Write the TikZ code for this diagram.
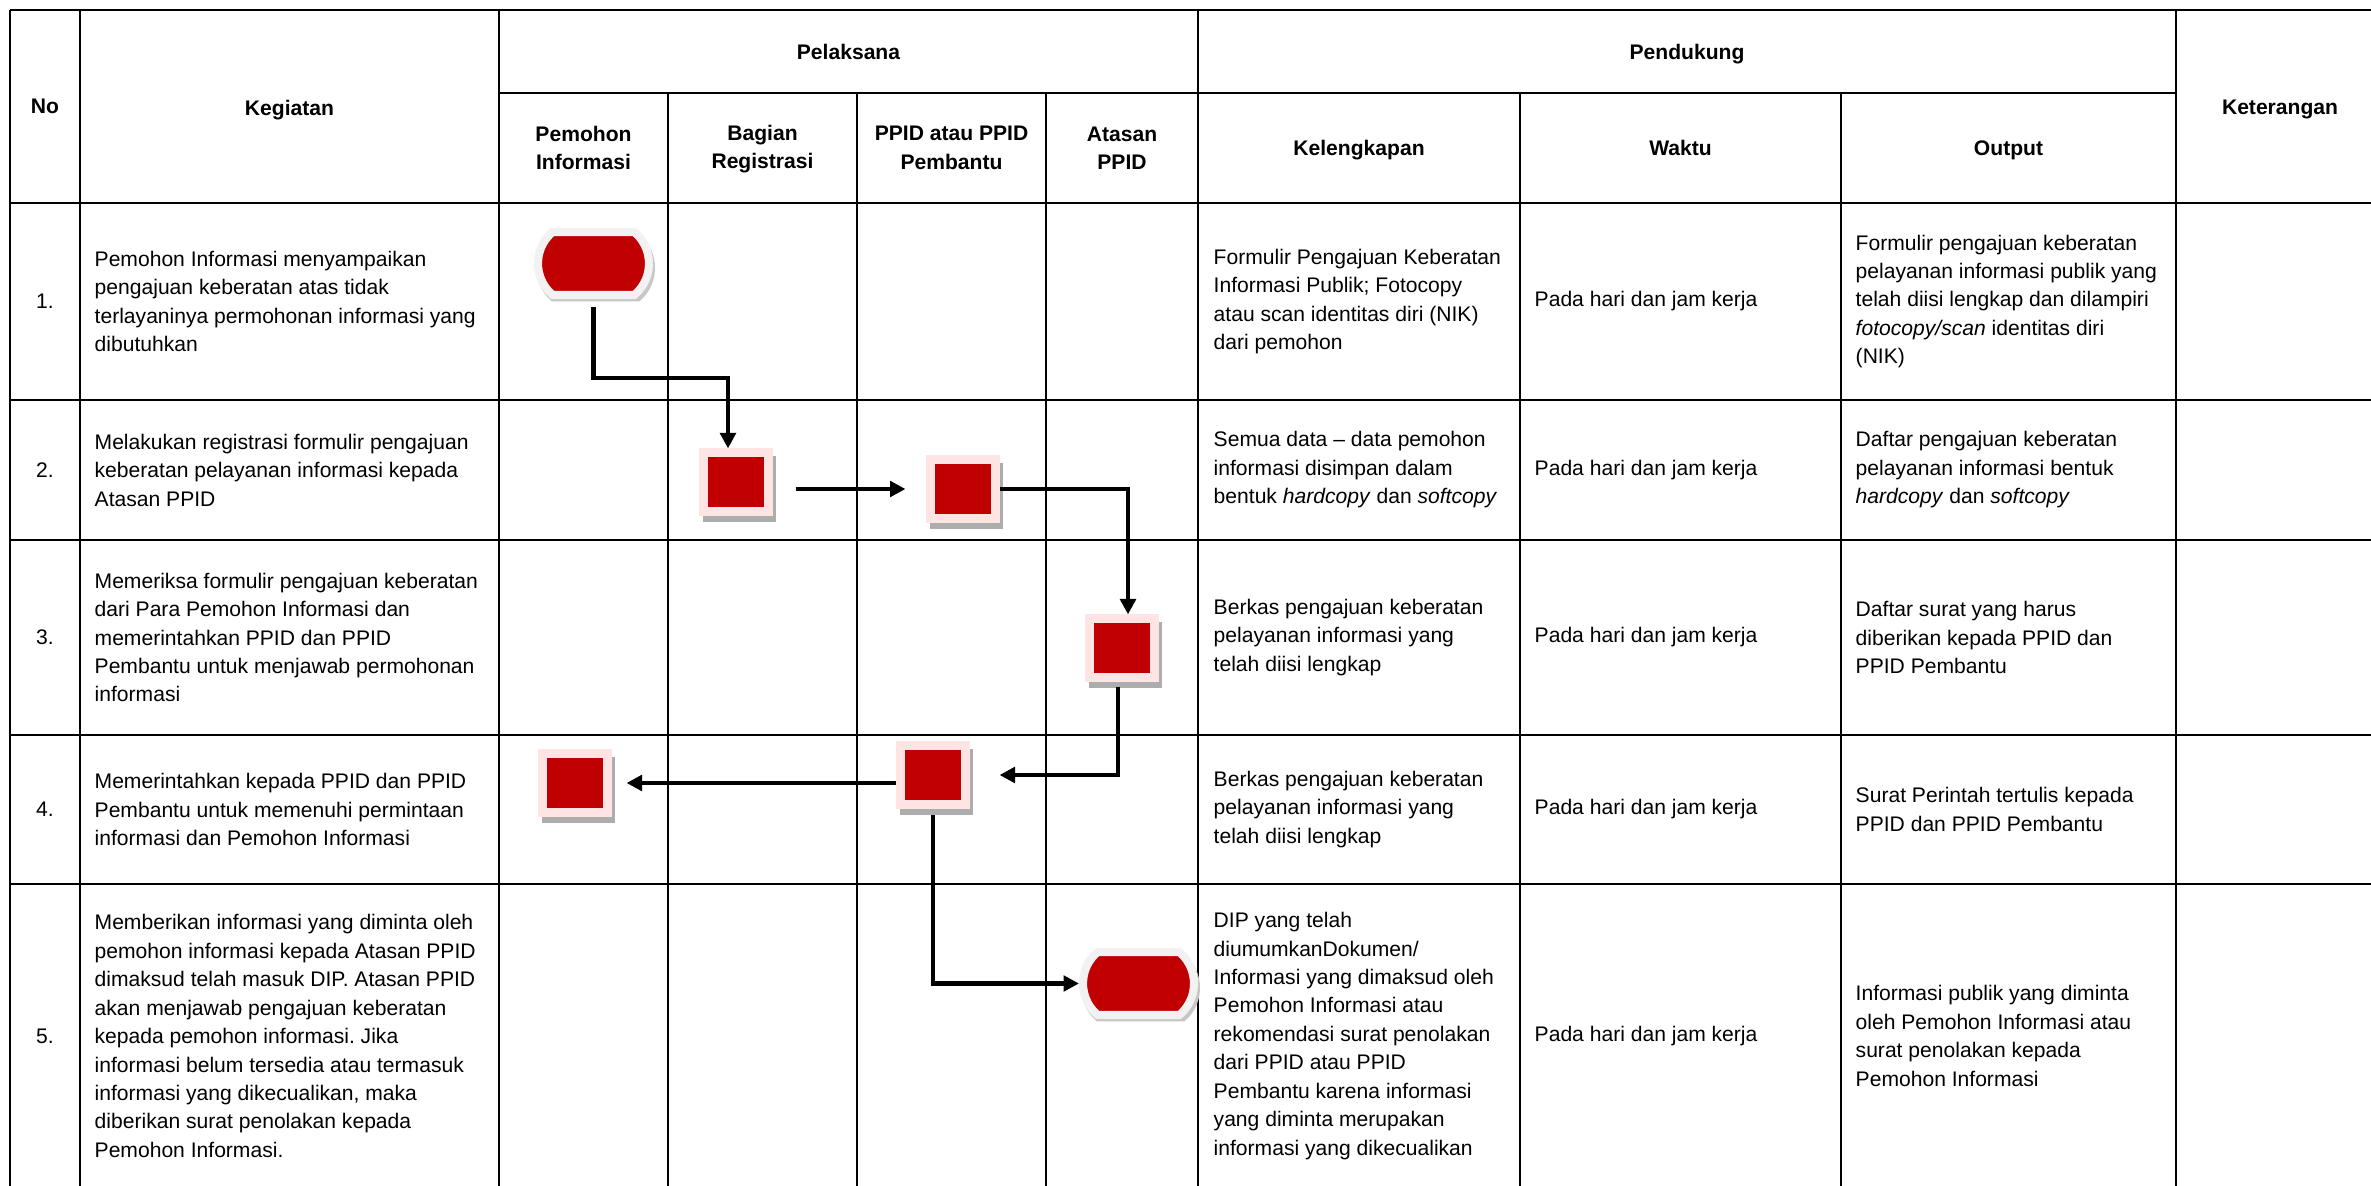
\documentclass[tikz,border=0pt]{standalone}
\usepackage{fontspec}
\setmainfont{Liberation Sans}
\usetikzlibrary{arrows.meta,shapes.misc,shadows}
\frenchspacing

\definecolor{procred}{HTML}{C00000}
\definecolor{procpink}{HTML}{FFE4E4}
\definecolor{termgray}{HTML}{F2F2F2}
\definecolor{shadegray}{HTML}{ADADAD}

\newcommand\tabfont{\fontsize{6}{8.1}\selectfont}

\tikzset{
    tabline/.style={line width=0.6pt},
    proc/.style={rectangle, fill=procred, draw=procpink, line width=2.3pt,
        minimum width=6.5mm, minimum height=5.9mm, inner sep=0pt,
        drop shadow={shadow scale=1.12, shadow xshift=0.3mm, shadow yshift=-0.6mm,
            fill=shadegray, draw=none, opacity=1}},
    term/.style={rounded rectangle, rounded rectangle arc length=100,
        fill=procred, draw=termgray, line width=2.3pt,
        minimum width=11.1mm, minimum height=6.3mm, inner sep=0pt,
        drop shadow={shadow scale=1.07, shadow xshift=0.2mm, shadow yshift=-0.4mm,
            fill=black!22, draw=none, opacity=1}},
    flow/.style={line width=1.3pt, -{Triangle[length=4.4pt,width=4.4pt]}},
    cell/.style={anchor=west, align=left, inner sep=0pt, font=\tabfont},
    head/.style={align=center, inner sep=0pt, font=\tabfont\bfseries}
}

\begin{document}
\begin{tikzpicture}[x=0.1mm, y=-0.1mm, font=\tabfont]
        \path[use as bounding box, fill=white] (0, 0) rectangle (2371, 1186);

        % \foreach \x in {0, 100, ..., 2300}
        %     \draw[red, very thin] (\x, 0) -- (\x, 1186);

        % table
        \draw[tabline] (10, 10) -- (2371, 10)
            (499, 93) -- (2176, 93);
        \foreach \y in {203, 400, 540, 735, 884}
            \draw[tabline] (10, \y) -- (2371, \y);
        \foreach \x in {10, 80, 499, 1198, 2176}
            \draw[tabline] (\x, 10) -- (\x, 1186);
        \foreach \x in {668, 857, 1046, 1520, 1841}
            \draw[tabline] (\x, 93) -- (\x, 1186);

        \draw node[head] (hno) at (45, 106.5) {No}
            node[head] (hkeg) at (289.5, 110) {Kegiatan}
            node[head] (hpel) at (848.5, 52) {Pelaksana}
            node[head] (hpem) at (583.5, 148) {Pemohon\\Informasi}
            node[head] (hbag) at (762.5, 149) {Bagian\\Registrasi}
            node[head] (hppid) at (951.5, 148) {PPID atau PPID\\Pembantu}
            node[head] (hata) at (1122, 148) {Atasan\\PPID}
            node[head] (hpen) at (1687, 54) {Pendukung}
            node[head] (hkel) at (1359, 150) {Kelengkapan}
            node[head] (hwak) at (1680.5, 148) {Waktu}
            node[head] (hout) at (2008.5, 150) {Output}
            node[head] (hket) at (2280, 109.5) {Keterangan};

        \foreach \n/\y in {1/301.5, 2/470, 3/637.5, 4/809.5, 5/1036} {
            \node (no\n) at (45, \y) {\n.};
            \node[cell] (waktu\n) at (1534, \y) {Pada hari dan jam kerja};
        }

        % kegiatan
        \node[cell] (keg1) at (94, 301.5) {Pemohon Informasi menyampaikan\\pengajuan keberatan atas tidak\\terlayaninya permohonan informasi yang\\dibutuhkan};
        \node[cell] (keg2) at (94, 470) {Melakukan registrasi formulir pengajuan\\keberatan pelayanan informasi kepada\\Atasan PPID};
        \node[cell] (keg3) at (94, 637.5) {Memeriksa formulir pengajuan keberatan\\dari Para Pemohon Informasi dan\\memerintahkan PPID dan PPID\\Pembantu untuk menjawab permohonan\\informasi};
        \node[cell] (keg4) at (94, 809.5) {Memerintahkan kepada PPID dan PPID\\Pembantu untuk memenuhi permintaan\\informasi dan Pemohon Informasi};
        \node[cell] (keg5) at (94, 1036) {Memberikan informasi yang diminta oleh\\pemohon informasi kepada Atasan PPID\\dimaksud telah masuk DIP. Atasan PPID\\akan menjawab pengajuan keberatan\\kepada pemohon informasi. Jika\\informasi belum tersedia atau termasuk\\informasi yang dikecualikan, maka\\diberikan surat penolakan kepada\\Pemohon Informasi.};

        % kelengkapan
        \node[cell] (kel1) at (1213, 301.5) {Formulir Pengajuan Keberatan\\Informasi Publik; Fotocopy\\atau scan identitas diri (NIK)\\dari pemohon};
        \node[cell] (kel2) at (1213, 470) {Semua data -- data pemohon\\informasi disimpan dalam\\bentuk \textit{hardcopy} dan \textit{softcopy}};
        \node[cell] (kel3) at (1213, 637.5) {Berkas pengajuan keberatan\\pelayanan informasi yang\\telah diisi lengkap};
        \node[cell] (kel4) at (1213, 809.5) {Berkas pengajuan keberatan\\pelayanan informasi yang\\telah diisi lengkap};
        \node[cell] (kel5) at (1213, 1036) {DIP yang telah\\diumumkanDokumen/\\Informasi yang dimaksud oleh\\Pemohon Informasi atau\\rekomendasi surat penolakan\\dari PPID atau PPID\\Pembantu karena informasi\\yang diminta merupakan\\informasi yang dikecualikan};

        % output
        \node[cell] (out1) at (1855, 301.5) {Formulir pengajuan keberatan\\pelayanan informasi publik yang\\telah diisi lengkap dan dilampiri\\\textit{fotocopy/scan} identitas diri\\(NIK)};
        \node[cell] (out2) at (1855, 470) {Daftar pengajuan keberatan\\pelayanan informasi bentuk\\\textit{hardcopy} dan \textit{softcopy}};
        \node[cell] (out3) at (1855, 637.5) {Daftar surat yang harus\\diberikan kepada PPID dan\\PPID Pembantu};
        \node[cell] (out4) at (1855, 809.5) {Surat Perintah tertulis kepada\\PPID dan PPID Pembantu};
        \node[cell] (out5) at (1855, 1036) {Informasi publik yang diminta\\oleh Pemohon Informasi atau\\surat penolakan kepada\\Pemohon Informasi};

        % flow shapes
        \node[term] (mulai) at (593.5, 263.5) {};
        \node[proc] (reg) at (736, 482) {};
        \node[proc] (ppid2) at (963, 489) {};
        \node[proc] (atasan3) at (1122, 648) {};
        \node[proc] (ppid4) at (933, 775) {};
        \node[proc] (pemohon4) at (575, 783) {};
        \node[term] (akhir) at (1138.5, 983.5) {};

        \draw[flow, shorten <=0.8mm] (mulai.south) -- ++(0, 79) -| ([xshift=-0.8mm]reg.north);
        \draw[flow, shorten <=2.3mm, shorten >=2.1mm] (reg.east |- ppid2.west) -- (ppid2.west);
        \draw[flow] (ppid2.east) -| ([xshift=0.6mm]atasan3.north);
        \draw[flow, shorten <=0.5mm, shorten >=3mm] ([xshift=-0.4mm]atasan3.south) |- (ppid4.east);
        \draw[flow, shorten >=1.5mm] (ppid4.west |- pemohon4.east) -- (pemohon4.east);
        \draw[flow, shorten <=0.6mm] (ppid4.south) |- (akhir.west);
    \end{tikzpicture}
\end{document}
